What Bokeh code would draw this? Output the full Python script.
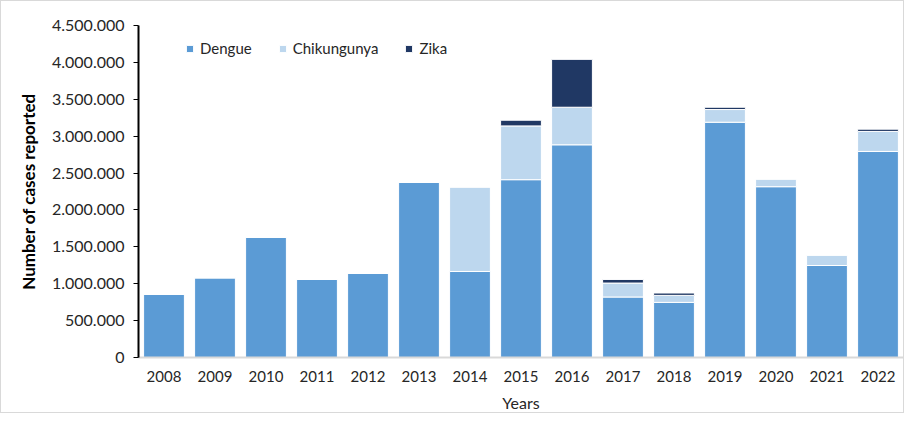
from bokeh.plotting import figure
from bokeh.models import ColumnDataSource, CustomJSTickFormatter, FixedTicker, Legend, Range1d
from bokeh.embed import file_html
from bokeh.resources import INLINE

years = ["2008", "2009", "2010", "2011", "2012", "2013", "2014", "2015",
         "2016", "2017", "2018", "2019", "2020", "2021", "2022"]
dengue = [855000, 1081000, 1631000, 1058000, 1139000, 2374000, 1166000, 2410000,
          2883000, 820000, 747000, 3189000, 2315000, 1247000, 2793000]
chikungunya = [0, 0, 0, 0, 0, 0, 1145000, 729000,
               509000, 189000, 95000, 172000, 104000, 141000, 271000]
zika = [0, 0, 0, 0, 0, 0, 0, 77000,
        649000, 49000, 32000, 31000, 0, 0, 31000]
series = ["Dengue", "Chikungunya", "Zika"]
colors = ["#5b9bd5", "#bdd7ee", "#203864"]
y_ticks = [0, 500000, 1000000, 1500000, 2000000, 2500000, 3000000, 3500000, 4000000, 4500000]

source = ColumnDataSource(dict(years=years, Dengue=dengue, Chikungunya=chikungunya, Zika=zika))

FONT = "Lato"

p = figure(x_range=years, width=904, height=413, output_backend="svg",
           toolbar_location=None, min_border_left=137, min_border_right=2,
           min_border_top=24, min_border_bottom=56)
p.y_range = Range1d(0, 4500000)
p.styles = {"border": "1px solid #d9d9d9"}

renderers = p.vbar_stack(series, x="years", width=0.8, source=source, color=colors,
                         line_color="white", line_width=1)

p.xgrid.visible = False
p.ygrid.visible = False
p.outline_line_color = None
p.x_range.range_padding = 0.0

p.yaxis.ticker = FixedTicker(ticks=y_ticks)
p.yaxis.formatter = CustomJSTickFormatter(code="return tick.toString().replace(/\\B(?=(\\d{3})+(?!\\d))/g, '.');")
p.yaxis.axis_line_color = "black"
p.yaxis.axis_line_width = 2
p.yaxis.major_tick_line_color = "black"
p.yaxis.major_tick_line_width = 1
p.yaxis.major_tick_out = 5
p.yaxis.major_tick_in = 0
p.yaxis.minor_tick_line_color = None
p.yaxis.major_label_text_font = FONT
p.yaxis.major_label_text_font_size = "16px"
p.yaxis.major_label_text_color = "#262626"
p.yaxis.major_label_standoff = 9
p.yaxis.axis_label = "Number of cases reported"
p.yaxis.axis_label_text_font = FONT
p.yaxis.axis_label_text_font_style = "bold"
p.yaxis.axis_label_text_font_size = "17px"
p.yaxis.axis_label_text_color = "black"
p.yaxis.axis_label_standoff = 10

p.xaxis.axis_line_color = "#d9d9d9"
p.xaxis.axis_line_width = 2
p.xaxis.major_tick_line_color = None
p.xaxis.minor_tick_line_color = None
p.xaxis.major_label_text_font = FONT
p.xaxis.major_label_text_font_size = "15px"
p.xaxis.major_label_text_color = "#262626"
p.xaxis.major_label_standoff = 7
p.xaxis.axis_label = "Years"
p.xaxis.axis_label_text_font = FONT
p.xaxis.axis_label_text_font_style = "normal"
p.xaxis.axis_label_text_font_size = "16px"
p.xaxis.axis_label_text_color = "#262626"
p.xaxis.axis_label_standoff = 8

legend = Legend(items=[(s, [r]) for s, r in zip(series, renderers)],
                orientation="horizontal", location=(47, 300),
                border_line_color=None, background_fill_alpha=0,
                label_text_font=FONT, label_text_font_size="15px",
                label_text_color="#262626", glyph_width=9, glyph_height=9,
                label_height=16, spacing=26, padding=0, margin=0, label_standoff=6)
p.add_layout(legend, "center")

open("out.html", "w").write(file_html(p, INLINE))
